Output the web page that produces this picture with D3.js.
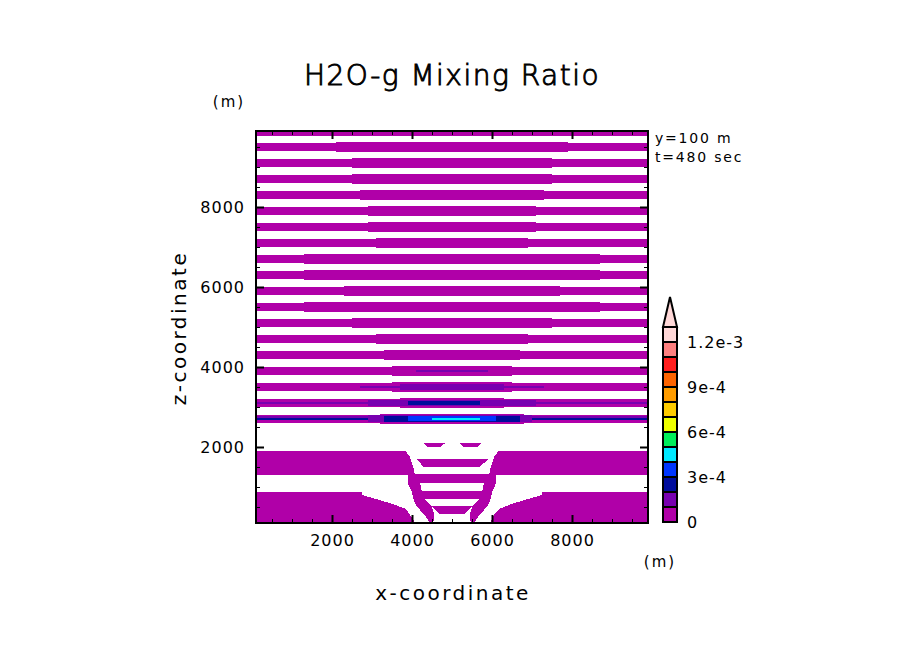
<!DOCTYPE html>
<html>
<head>
<meta charset="utf-8">
<script src="https://cdn.jsdelivr.net/npm/d3@7"></script>
<style>
  body { margin: 0; background: #fff; }
  text { font-family: "DejaVu Sans", sans-serif; fill: #000; }
</style>
</head>
<body>
<script>
// ---- data (metres / mixing ratio) ----
const xDomain = [100, 9900];
const zDomain = [100, 9900];
const xMajor = [2000, 4000, 6000, 8000];
const xMinor = [500, 1000, 1500, 2500, 3000, 3500, 4500, 5000, 5500, 6500, 7000, 7500, 8500, 9000, 9500];
const zMajor = [2000, 4000, 6000, 8000];
const zMinor = [500, 1000, 1500, 2500, 3000, 3500, 4500, 5000, 5500, 6500, 7000, 7500, 8500, 9000, 9500];

const levelBounds = [0, 1e-4, 2e-4, 3e-4, 4e-4, 5e-4, 6e-4, 7e-4, 8e-4, 9e-4, 1e-3, 1.1e-3, 1.2e-3, 1.3e-3];
const levelColours = ["#b000a8", "#7800b0", "#000c9c", "#0036ff", "#00eaff", "#00ee5a", "#eeff00",
                      "#ffcc00", "#ff9c00", "#ff6400", "#ff1e1e", "#ff8080", "#ffd8d8"];
const legendTicks = [0, 3e-4, 6e-4, 9e-4, 1.2e-3];
const legendLabels = ["0", "3e-4", "6e-4", "9e-4", "1.2e-3"];

// upper layer: magenta stripes, centre height of each one
const stripeZ = [9900, 9500, 9100, 8700, 8300, 7900, 7500, 7100, 6700, 6300, 5900, 5500, 5100,
                 4700, 4300, 3900, 3500, 3100, 2700];
// half widths (from x=5000) of the steps that thicken each stripe towards the middle
const stripeMidHalfW = [4900, 3500, 3300, 3300, 3300, 3500, 3500, 3500, 4300, 4100, 3900, 4100, 3900,
                        3700, 2900, 2500, 2300, 2100, 1900];
const stripeInnerHalfW = [4900, 2900, 2500, 2500, 2300, 2100, 2100, 1900, 3700, 3700, 2700, 3700, 2500,
                          1900, 1700, 1500, 1500, 1300, 1800];
const stripeCoreHalfW = [4900, 1100, 1500, 1500, 1500, 1500, 1500, 1500, 1700, 1500, 1700, 1300, 1300,
                         1100, 1100, 900, 1100, 1000, 1700];
const stripeHalfThick = [92, 106, 120, 133]; // outer, middle, inner, core

// higher levels inside the stripes: [x0, x1, z0, z1, level]
const cores = [
  [4100, 5900, 3878, 3915, 1],
  [2700, 7300, 3470, 3530, 1],
  [3700, 6300, 3430, 3570, 1],
  [100, 9900, 3067, 3117, 1],
  [2900, 7100, 3030, 3165, 1],
  [3900, 5700, 3040, 3150, 2],
  [100, 9900, 2684, 2784, 1],
  [100, 9900, 2684, 2734, 2],
  [2900, 7000, 2620, 2805, 1],
  [3300, 6700, 2630, 2784, 2],
  [3900, 6100, 2645, 2767, 3],
  [4500, 5700, 2684, 2734, 4]
];

// lower layer pieces, lowest level, outlines as [x, z]
const lowPieces = [
  [[100, 1900], [3842, 1900], [3950, 1750], [4030, 1500], [4075, 1300], [100, 1300]],
  [[9900, 1900], [6158, 1900], [6050, 1750], [5970, 1500], [5925, 1300], [9900, 1300]],
  [[100, 875], [2750, 875], [2750, 800], [3100, 700], [3500, 580], [3850, 450], [3950, 300], [4080, 100], [100, 100]],
  [[9900, 875], [7250, 875], [7250, 800], [6900, 700], [6500, 580], [6180, 450], [6050, 300], [5950, 100], [9900, 100]],
  [[4283, 2092], [4825, 2092], [4720, 2008], [4370, 2008]],
  [[5183, 2092], [5740, 2092], [5650, 2008], [5290, 2008]],
  [[4116, 1700], [5908, 1700], [5700, 1508], [4283, 1508]],
  [[3891, 1317], [6109, 1317], [6109, 1108], [3891, 1108]],
  [[3891, 1108], [4200, 1108], [4241, 900], [4300, 700], [4491, 517], [4560, 317], [4530, 100], [4450, 100],
   [4300, 317], [4116, 517], [4033, 700], [3991, 900]],
  [[6109, 1108], [5800, 1108], [5759, 900], [5700, 700], [5509, 517], [5440, 317], [5470, 100], [5550, 100],
   [5700, 317], [5884, 517], [5967, 700], [6009, 900]],
  [[3991, 900], [6009, 900], [5967, 700], [4033, 700]],
  [[4491, 517], [5509, 517], [5300, 317], [4700, 317]]
];

// ---- layout ----
const W = 904, H = 654;
const plot = { left: 256, top: 131, size: 392 };

const svg = d3.select("body").append("svg").attr("width", W).attr("height", H);

const x = d3.scaleLinear().domain(xDomain).range([plot.left, plot.left + plot.size]);
const z = d3.scaleLinear().domain(zDomain).range([plot.top + plot.size, plot.top]);
const colour = d3.scaleOrdinal().domain(d3.range(levelColours.length)).range(levelColours);

svg.append("clipPath").attr("id", "clip")
  .append("rect")
  .attr("x", plot.left).attr("y", plot.top)
  .attr("width", plot.size).attr("height", plot.size);

const field = svg.append("g").attr("clip-path", "url(#clip)").attr("shape-rendering", "crispEdges");

// stripes -> rectangles
const stripeRects = [];
stripeZ.forEach((zc, i) => {
  const halfW = [4900, stripeMidHalfW[i], stripeInnerHalfW[i], stripeCoreHalfW[i]];
  halfW.forEach((hw, k) => {
    stripeRects.push([5000 - hw, 5000 + hw, zc - stripeHalfThick[k], zc + stripeHalfThick[k], 0]);
  });
});

const line = d3.line().x(d => x(d[0])).y(d => z(d[1]));

field.selectAll(".piece")
  .data(lowPieces)
  .enter().append("path")
  .attr("class", "piece")
  .attr("d", d => line(d) + "Z")
  .attr("fill", colour(0));

field.selectAll(".cell")
  .data(stripeRects.concat(cores))
  .enter().append("rect")
  .attr("class", "cell")
  .attr("x", d => x(d[0]))
  .attr("y", d => z(d[3]))
  .attr("width", d => x(d[1]) - x(d[0]))
  .attr("height", d => z(d[2]) - z(d[3]))
  .attr("fill", d => colour(d[4]));

// ---- axes ----
function styleAxis(g, width) {
  g.select(".domain").remove();
  g.selectAll(".tick line").attr("stroke", "#000").attr("stroke-width", width);
}
function labelStyle(g) {
  g.selectAll("text")
    .style("font-family", "DejaVu Sans")
    .style("font-size", "16px")
    .style("letter-spacing", "1px")
    .attr("fill", "#000");
}

const bottom = plot.top + plot.size, right = plot.left + plot.size;

svg.append("g").attr("transform", `translate(0,${bottom})`)
  .call(d3.axisBottom(x).tickValues(xMinor).tickSizeInner(-4).tickSizeOuter(0).tickFormat(""))
  .call(styleAxis, 1);
svg.append("g").attr("transform", `translate(0,${plot.top})`)
  .call(d3.axisTop(x).tickValues(xMinor).tickSizeInner(-4).tickSizeOuter(0).tickFormat(""))
  .call(styleAxis, 1);
svg.append("g").attr("transform", `translate(${plot.left},0)`)
  .call(d3.axisLeft(z).tickValues(zMinor).tickSizeInner(-4).tickSizeOuter(0).tickFormat(""))
  .call(styleAxis, 1);
svg.append("g").attr("transform", `translate(${right},0)`)
  .call(d3.axisRight(z).tickValues(zMinor).tickSizeInner(-4).tickSizeOuter(0).tickFormat(""))
  .call(styleAxis, 1);

svg.append("g").attr("transform", `translate(0,${bottom})`)
  .call(d3.axisBottom(x).tickValues(xMajor).tickSizeInner(-8).tickSizeOuter(0).tickPadding(12).tickFormat(d3.format("d")))
  .call(styleAxis, 2).call(labelStyle);
svg.append("g").attr("transform", `translate(0,${plot.top})`)
  .call(d3.axisTop(x).tickValues(xMajor).tickSizeInner(-8).tickSizeOuter(0).tickFormat(""))
  .call(styleAxis, 2);
svg.append("g").attr("transform", `translate(${plot.left},0)`)
  .call(d3.axisLeft(z).tickValues(zMajor).tickSizeInner(-8).tickSizeOuter(0).tickPadding(11).tickFormat(d3.format("d")))
  .call(styleAxis, 2).call(labelStyle);
svg.append("g").attr("transform", `translate(${right},0)`)
  .call(d3.axisRight(z).tickValues(zMajor).tickSizeInner(-8).tickSizeOuter(0).tickFormat(""))
  .call(styleAxis, 2);

svg.append("rect")
  .attr("x", plot.left).attr("y", plot.top)
  .attr("width", plot.size).attr("height", plot.size)
  .attr("fill", "none").attr("stroke", "#000").attr("stroke-width", 2);

// ---- texts ----
svg.append("text").attr("x", 452).attr("y", 85)
  .attr("text-anchor", "middle").style("font-size", "28px").style("font-weight", 200)
  .style("letter-spacing", "1.5px").attr("stroke", "#000").attr("stroke-width", 0.9)
  .text("H2O-g Mixing Ratio");

svg.append("text").attr("x", 229).attr("y", 107)
  .attr("text-anchor", "middle").style("font-size", "15px").style("letter-spacing", "2px")
  .text("(m)");
svg.append("text").attr("x", 660).attr("y", 567)
  .attr("text-anchor", "middle").style("font-size", "15px").style("letter-spacing", "2px")
  .text("(m)");

svg.append("text").attr("x", 453).attr("y", 600)
  .attr("text-anchor", "middle").style("font-size", "20px").style("letter-spacing", "2.5px")
  .text("x-coordinate");
svg.append("text")
  .attr("transform", "translate(186,328) rotate(-90)")
  .attr("text-anchor", "middle").style("font-size", "20px").style("letter-spacing", "2.5px")
  .text("z-coordinate");

svg.append("text").attr("x", 655).attr("y", 143)
  .style("font-size", "14px").style("letter-spacing", "1.8px").text("y=100 m");
svg.append("text").attr("x", 655).attr("y", 162)
  .style("font-size", "14px").style("letter-spacing", "1.8px").text("t=480 sec");

// ---- colour bar ----
const legend = { x: 663, width: 14 };
const ly = d3.scaleLinear()
  .domain([levelBounds[0], levelBounds[levelBounds.length - 1]])
  .range([522, 327]);

const bar = svg.append("g");
bar.selectAll(".box")
  .data(levelColours)
  .enter().append("rect")
  .attr("class", "box")
  .attr("x", legend.x)
  .attr("y", (d, i) => ly(levelBounds[i + 1]))
  .attr("width", legend.width)
  .attr("height", (d, i) => ly(levelBounds[i]) - ly(levelBounds[i + 1]))
  .attr("fill", d => d)
  .attr("stroke", "#000").attr("stroke-width", 2);

const topY = ly(levelBounds[levelBounds.length - 1]);
bar.append("path")
  .attr("d", `M${legend.x},${topY}L${legend.x + legend.width},${topY}L${legend.x + legend.width / 2},${topY - 30}Z`)
  .attr("fill", levelColours[levelColours.length - 1])
  .attr("stroke", "#000").attr("stroke-width", 2).attr("stroke-linejoin", "miter");

bar.selectAll(".lab")
  .data(legendTicks)
  .enter().append("text")
  .attr("class", "lab")
  .attr("x", 687)
  .attr("y", d => ly(d))
  .attr("dy", "0.36em")
  .style("font-size", "16px").style("letter-spacing", "1px")
  .text((d, i) => legendLabels[i]);
</script>
</body>
</html>
